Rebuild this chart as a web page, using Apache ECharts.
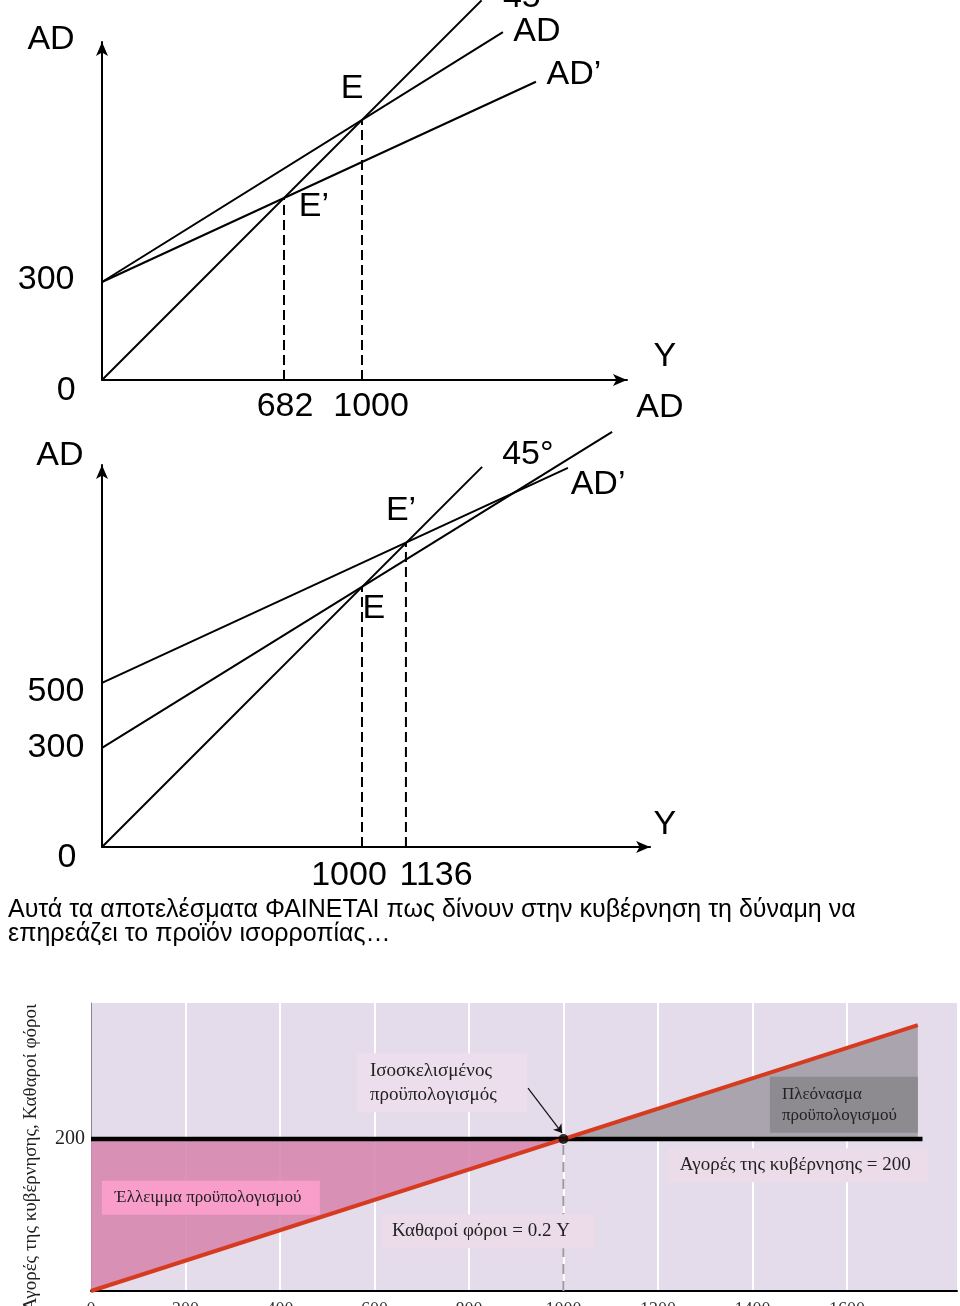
<!DOCTYPE html>
<html><head><meta charset="utf-8">
<script src="https://cdn.jsdelivr.net/npm/echarts@6/dist/echarts.min.js"></script>
<style>html,body{margin:0;padding:0;background:#fff}#c{width:960px;height:1306px}</style>
</head><body><div id="c"></div>
<script>
// ---------- Panel 1 (diagram units: Y and AD on one scale) ----------
const p1Line45 = [[0, 0], [1460, 1460]];
const p1AD = [[0, 377], [1542, 1338]];
const p1ADp = [[0, 377], [1669, 1147]];
const p1DropE = [[1000, 0], [1000, 1000]];
const p1DropEp = [[700, 0], [700, 700]];
const p1Labels = [
  ['AD', -196, 1308], ['AD', 1673, 1338], ['AD\u2019', 1815, 1173],
  ['E', 962, 1119], ['E\u2019', 815, 665], ['300', -215, 385],
  ['0', -138, -42], ['682', 704, -104], ['1000', 1035, -104], ['Y', 2165, 88]
];
const p1LabelsLeft = [['45\u00b0', 1542, 1470]];

// ---------- Panel 2 ----------
const p2Line45 = [[0, 0], [1462, 1462]];
const p2AD = [[0, 381], [1962, 1597]];
const p2ADp = [[0, 631], [1792, 1458]];
const p2DropE = [[1000, 0], [1000, 1000]];
const p2DropEp = [[1169, 0], [1169, 1169]];
const p2Labels = [
  ['AD', -162, 1504], ['45\u00b0', 1638, 1508], ['AD\u2019', 1908, 1392],
  ['AD', 2146, 1688], ['E\u2019', 1150, 1292], ['E', 1046, 915],
  ['500', -177, 596], ['300', -177, 381], ['0', -135, -42],
  ['1000', 950, -112], ['1136', 1285, -112], ['Y', 2165, 85]
];

const noteText = 'Αυτά τα αποτελέσματα ΦΑΙΝΕΤΑΙ πως δίνουν στην κυβέρνηση τη δύναμη να\nεπηρεάζει το προϊόν ισορροπίας…';

// ---------- Panel 3 (Y, government purchases / net taxes) ----------
const p3XTicks = [0, 200, 400, 600, 800, 1000, 1200, 1400, 1600];
const p3YTicks = [200];
const p3Gov = [[0, 200], [1760, 200]];
const p3Tax = [[0, 0], [1750, 350]];
const p3Deficit = [[0, 200], [1000, 200], [0, 0]];
const p3Surplus = [[1000, 200], [1750, 350], [1750, 200]];
const p3Balance = [[1000, 200]];
const p3Drop = [[1000, 0], [1000, 200]];
const p3Arrow = [[925, 267], [997, 208]];
const p3Boxes = [
  ['Ισοσκελισμένος\nπροϋπολογισμός', 563, 313],
  ['Πλεόνασμα\nπροϋπολογισμού', 1437, 282],
  ['Αγορές της κυβέρνησης = 200', 1221, 188],
  ['Έλλειμμα προϋπολογισμού', 23, 145],
  ['Καθαροί φόροι = 0.2 Y', 616, 101]
];
const p3Title = 'Αγορές της κυβέρνησης, Καθαροί φόροι';

// ---------- layout / styles ----------
const S = 0.26;
const P1 = {left: 102, base: 380, xMax: 2019, yMax: 1300};
const P2 = {left: 102, base: 847, xMax: 2108, yMax: 1469};
const P3 = {left: 91, top: 1003, width: 866, height: 288, xMax: 1833, yMax: 379};
const boxStyles = [
  {w: 170, h: 59, fill: '#ecdeec', size: 19, lh: 24, pad: 13},
  {w: 148, h: 56, fill: '#8e8b90', size: 17, lh: 21, pad: 12},
  {w: 260, h: 34, fill: '#ecdcea', size: 19, lh: 22, pad: 12},
  {w: 218, h: 34, fill: '#f99dcb', size: 17, lh: 22, pad: 13},
  {w: 213, h: 34, fill: '#ecdcea', size: 19, lh: 22, pad: 10}
];
const SANS = '"Liberation Sans", Arial, sans-serif';
const SERIF = '"Liberation Serif", "Times New Roman", serif';

function arrowAxis(grid, max) {
  return {
    gridIndex: grid, type: 'value', min: 0, max: max,
    axisLine: {show: true, onZero: false, symbol: ['none', 'arrow'], symbolSize: [9, 14],
      lineStyle: {color: '#000', width: 2}},
    axisTick: {show: false}, axisLabel: {show: false}, splitLine: {show: false}
  };
}
function ln(xi, data, dashed) {
  return {type: 'line', xAxisIndex: xi, yAxisIndex: xi, data: data, showSymbol: false, symbol: 'none',
    clip: false, silent: true, animation: false,
    lineStyle: {color: '#000', width: 2, type: dashed ? [10, 5] : 'solid'}};
}
function poly(data, fill, z) {
  return {type: 'custom', xAxisIndex: 2, yAxisIndex: 2, data: [[0, 0]], silent: true, z: z, animation: false,
    renderItem: (params, api) => ({type: 'polygon',
      shape: {points: data.map(p => api.coord(p))}, style: {fill: fill}})};
}

const chart = echarts.init(document.getElementById('c'));
const splitColors = ['rgba(0,0,0,0)'];
for (let i = 0; i < 8; i++) splitColors.push('#ffffff');
splitColors.push('rgba(0,0,0,0)', 'rgba(0,0,0,0)', 'rgba(0,0,0,0)');

const gridBase = {containLabel: false, outerBoundsMode: 'none'};
chart.setOption({
  animation: false,
  backgroundColor: '#ffffff',
  grid: [
    Object.assign({left: P1.left, top: P1.base - P1.yMax * S, width: P1.xMax * S, height: P1.yMax * S}, gridBase),
    Object.assign({left: P2.left, top: P2.base - P2.yMax * S, width: P2.xMax * S, height: P2.yMax * S}, gridBase),
    Object.assign({left: P3.left, top: P3.top, width: P3.width, height: P3.height, show: true,
      backgroundColor: '#e4dcea', borderWidth: 0}, gridBase)
  ],
  xAxis: [arrowAxis(0, P1.xMax), arrowAxis(1, P2.xMax), {
    gridIndex: 2, type: 'value', min: 0, max: P3.xMax, interval: 200,
    axisLine: {show: true, onZero: false, lineStyle: {color: '#000', width: 2}},
    axisTick: {show: false},
    axisLabel: {margin: 10, fontFamily: SERIF, fontSize: 18, color: '#333',
      formatter: v => (p3XTicks.indexOf(v) >= 0 ? String(v) : '')},
    splitLine: {show: true, showMinLine: true, showMaxLine: true, lineStyle: {color: splitColors, width: 2}}
  }],
  yAxis: [arrowAxis(0, P1.yMax), arrowAxis(1, P2.yMax), {
    gridIndex: 2, type: 'value', min: 0, max: P3.yMax, interval: 200,
    axisLine: {show: true, onZero: false, lineStyle: {color: '#8a8590', width: 1}},
    axisTick: {show: false},
    axisLabel: {margin: 6, fontFamily: SERIF, fontSize: 20, color: '#222',
      formatter: v => (p3YTicks.indexOf(v) >= 0 ? String(v) : '')},
    splitLine: {show: false}
  }],
  series: [
    ln(0, p1Line45), ln(0, p1AD), ln(0, p1ADp), ln(0, p1DropE, true), ln(0, p1DropEp, true),
    ln(1, p2Line45), ln(1, p2AD), ln(1, p2ADp), ln(1, p2DropE, true), ln(1, p2DropEp, true),
    poly(p3Deficit, 'rgba(214,133,172,0.88)', 2),
    poly(p3Surplus, '#a9a4ad', 2),
    {type: 'line', xAxisIndex: 2, yAxisIndex: 2, data: p3Drop, symbol: 'none', silent: true, z: 3,
      lineStyle: {color: '#9d99a2', width: 2, type: [10, 7]}},
    {type: 'line', xAxisIndex: 2, yAxisIndex: 2, data: p3Gov, symbol: 'none', silent: true, z: 4,
      lineStyle: {color: '#000', width: 4.5}},
    {type: 'line', xAxisIndex: 2, yAxisIndex: 2, data: p3Tax, symbol: 'none', silent: true, z: 5,
      lineStyle: {color: '#d63b1f', width: 4}},
    {type: 'scatter', xAxisIndex: 2, yAxisIndex: 2, data: p3Balance, symbolSize: 10, silent: true, z: 8,
      itemStyle: {color: '#000'},
      markLine: {silent: true, symbol: ['none', 'arrow'], symbolSize: 8, label: {show: false},
        lineStyle: {color: '#111', width: 1.2, type: 'solid'},
        data: [[{coord: p3Arrow[0]}, {coord: p3Arrow[1]}]]}}
  ]
});

// ---------- text annotations placed through the axes ----------
const g = [];
function addLabels(grid, list, align) {
  list.forEach(([t, x, y]) => {
    const p = chart.convertToPixel({gridIndex: grid}, [x, y]);
    g.push({type: 'text', x: p[0], y: p[1], z: 20,
      style: {text: t, fill: '#000', fontFamily: SANS, fontSize: 34, align: align || 'center', verticalAlign: 'middle'}});
  });
}
addLabels(0, p1Labels);
addLabels(0, p1LabelsLeft, 'left');
addLabels(1, p2Labels);

g.push({type: 'text', x: 8, y: 898, z: 20,
  style: {text: noteText, fill: '#000', fontFamily: SANS, fontSize: 25, lineHeight: 24, align: 'left', verticalAlign: 'top'}});

p3Boxes.forEach(([t, x, y], i) => {
  const st = boxStyles[i];
  const p = chart.convertToPixel({gridIndex: 2}, [x, y]);
  g.push({type: 'rect', shape: {x: p[0], y: p[1], width: st.w, height: st.h}, z: 15, style: {fill: st.fill}});
  g.push({type: 'text', x: p[0] + st.pad, y: p[1] + st.h / 2, z: 16,
    style: {text: t, fill: '#222', fontFamily: SERIF, fontSize: st.size, lineHeight: st.lh, align: 'left', verticalAlign: 'middle'}});
});

g.push({type: 'text', x: 31, y: 1004, rotation: Math.PI / 2, z: 20,
  style: {text: p3Title, fill: '#222', fontFamily: SERIF, fontSize: 19, align: 'right', verticalAlign: 'middle'}});

chart.setOption({graphic: g});
</script>
</body></html>
